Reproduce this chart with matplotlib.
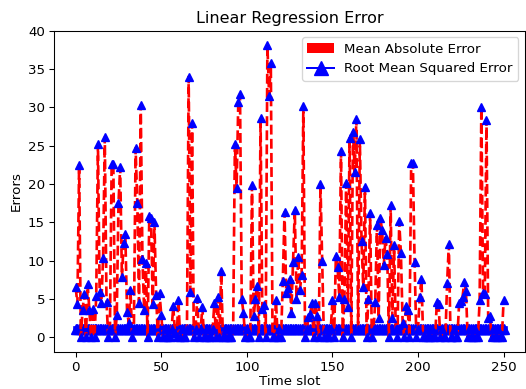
import numpy as np
import matplotlib
matplotlib.use("Agg")
import matplotlib.pyplot as plt
from matplotlib.patches import Patch

# error per time slot
mae = [
    6.5, 4.3, 22.5, 0.0, 3.5, 5.6, 0.0, 6.9, 3.5, 0.0,
    3.7, 0.0, 5.4, 25.2, 5.9, 4.5, 10.3, 26.1, 4.6, 0.0,
    1.0, 22.6, 22.6, 0.0, 2.9, 17.5, 22.2, 7.8, 12.3, 13.4,
    3.3, 1.9, 6.2, 0.0, 1.0, 24.7, 17.5, 4.5, 30.3, 10.2,
    3.5, 9.7, 0.0, 15.8, 15.6, 4.3, 15.0, 5.5, 0.0, 5.7,
    2.9, 0.0, 1.0, 0.0, 0.0, 0.0, 1.0, 4.0, 0.6, 0.0,
    4.9, 0.0, 1.0, 0.0, 0.0, 1.0, 34.0, 5.9, 27.9, 0.0,
    1.0, 5.1, 0.0, 1.0, 3.9, 0.0, 0.0, 1.0, 0.0, 0.0,
    1.0, 4.4, 0.0, 5.2, 0.0, 8.6, 0.0, 0.0, 1.0, 0.0,
    0.0, 0.0, 1.0, 25.2, 19.5, 30.7, 31.7, 5.0, 3.2, 0.0,
    1.0, 0.0, 0.0, 19.8, 2.7, 5.0, 6.7, 0.0, 28.6, 3.7,
    4.2, 0.0, 38.1, 31.5, 35.8, 0.0, 0.0, 4.8, 0.0, 1.0,
    0.0, 7.3, 16.3, 5.8, 6.4, 7.6, 3.2, 9.8, 16.6, 5.0,
    10.4, 6.2, 8.1, 30.2, 0.0, 1.0, 2.6, 3.0, 4.4, 0.0,
    4.4, 2.8, 0.0, 20.0, 9.9, 0.0, 1.0, 0.0, 0.0, 1.0,
    4.8, 0.0, 10.6, 9.1, 5.3, 24.3, 0.0, 5.0, 20.1, 3.9,
    26.0, 0.0, 26.8, 21.6, 28.5, 1.0, 25.8, 12.6, 6.5, 19.6,
    0.0, 5.0, 16.2, 0.0, 1.0, 4.6, 14.6, 2.5, 15.5, 14.0,
    9.4, 13.0, 10.8, 0.0, 17.2, 2.5, 12.0, 1.0, 0.0, 15.1,
    11.0, 1.9, 0.0, 4.0, 3.6, 0.0, 22.7, 22.7, 9.8, 0.0,
    1.0, 5.3, 7.6, 0.0, 0.0, 1.0, 0.0, 0.0, 1.0, 0.0,
    0.0, 4.6, 4.3, 0.0, 1.0, 0.0, 0.0, 7.1, 12.1, 0.0,
    0.0, 1.0, 0.0, 0.0, 4.4, 4.7, 5.2, 7.2, 6.0, 0.0,
    1.0, 0.0, 0.0, 1.0, 0.0, 0.0, 4.8, 30.0, 5.8, 5.6,
    28.4, 2.5, 2.7, 0.0, 1.0, 0.0, 0.0, 1.0, 0.0, 0.0,
    4.8,
]

# the flat band near 1
rmse = [
    1.0, 1.0, 1.0, 1.0, 1.0, 1.0, 1.0, 1.0, 1.0, 1.0, 1.0, 1.0, 1.0, 1.0, 1.0, 1.0, 1.0, 1.0, 1.0, 1.0,
    1.0, 1.0, 1.0, 1.0, 1.0, 1.0, 1.0, 1.0, 1.0, 1.0, 1.0, 1.0, 1.0, 1.0, 1.0, 1.0, 1.0, 1.0, 1.0, 1.0,
    1.0, 1.0, 1.0, 1.0, 1.0, 1.0, 1.0, 1.0, 1.0, 1.0, 1.0, 1.0, 1.0, 1.0, 1.0, 1.0, 1.0, 1.0, 1.0, 1.0,
    1.0, 1.0, 1.0, 1.0, 1.0, 1.0, 1.0, 1.0, 1.0, 1.0, 1.0, 1.0, 1.0, 1.0, 1.0, 1.0, 1.0, 1.0, 1.0, 1.0,
    1.0, 1.0, 1.0, 1.0, 1.0, 1.0, 1.0, 1.0, 1.0, 1.0, 1.0, 1.0, 1.0, 1.0, 1.0, 1.0, 1.0, 1.0, 1.0, 1.0,
    1.0, 1.0, 1.0, 1.0, 1.0, 1.0, 1.0, 1.0, 1.0, 1.0, 1.0, 1.0, 1.0, 1.0, 1.0, 1.0, 1.0, 1.0, 1.0, 1.0,
    1.0, 1.0, 1.0, 1.0, 1.0, 1.0, 1.0, 1.0, 1.0, 1.0, 1.0, 1.0, 1.0, 1.0, 1.0, 1.0, 1.0, 1.0, 1.0, 1.0,
    1.0, 1.0, 1.0, 1.0, 1.0, 1.0, 1.0, 1.0, 1.0, 1.0, 1.0, 1.0, 1.0, 1.0, 1.0, 1.0, 1.0, 1.0, 1.0, 1.0,
    1.0, 1.0, 1.0, 1.0, 1.0, 1.0, 1.0, 1.0, 1.0, 1.0, 1.0, 1.0, 1.0, 1.0, 1.0, 1.0, 1.0, 1.0, 1.0, 1.0,
    1.0, 1.0, 1.0, 1.0, 1.0, 1.0, 1.0, 1.0, 1.0, 1.0, 1.0, 1.0, 1.0, 1.0, 1.0, 1.0, 1.0, 1.0, 1.0, 1.0,
    1.0, 1.0, 1.0, 1.0, 1.0, 1.0, 1.0, 1.0, 1.0, 1.0, 1.0, 1.0, 1.0, 1.0, 1.0, 1.0, 1.0, 1.0, 1.0, 1.0,
    1.0, 1.0, 1.0, 1.0, 1.0, 1.0, 1.0, 1.0, 1.0, 1.0, 1.0, 1.0, 1.0, 1.0, 1.0, 1.0, 1.0, 1.0, 1.0, 1.0,
    1.0, 1.0, 1.0, 1.0, 1.0, 1.0, 1.0, 1.0, 1.0, 1.0, 1.0,
]

time_slot = np.arange(len(mae))

DPI = 96
fig = plt.figure(figsize=(526 / DPI, 389 / DPI), dpi=DPI)
ax = fig.add_axes([54.3 / 526, 37.3 / 389, 470.7 / 526, 321 / 389])

ax.plot(time_slot, rmse, color='blue', marker='^', ms=7, lw=5)
ax.plot(time_slot, mae, color='red', ls='--', lw=2,
        marker='^', ms=5.5, mfc='blue', mec='blue')

ax.set_title('Linear Regression Error')
ax.set_xlabel('Time slot', labelpad=1)
ax.set_ylabel('Errors')

handles = [Patch(facecolor='red', label='Mean Absolute Error'),
           plt.Line2D([], [], color='blue', marker='^', ms=10, lw=1.5,
                      label='Root Mean Squared Error')]
ax.legend(handles=handles, loc='upper right')

fig.savefig('out.png', dpi=DPI)
